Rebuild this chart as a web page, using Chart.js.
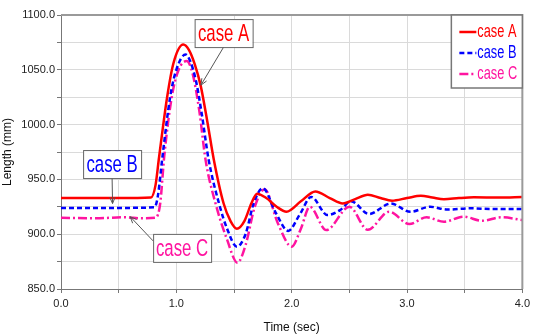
<!DOCTYPE html>
<html>
<head>
<meta charset="utf-8">
<script src="https://cdn.jsdelivr.net/npm/chart.js@4/dist/chart.umd.min.js"></script>
<style>
  html, body { margin: 0; padding: 0; background: #fff; }
  #wrap { width: 534px; height: 335px; }
</style>
</head>
<body>
<div id="wrap"><canvas id="chart"></canvas></div>
<script>
// values (time in sec, length in mm)
const timeA = [0, 0.5, 0.78, 0.82, 0.85, 0.92, 0.975, 1.06, 1.11, 1.16, 1.21, 1.27, 1.325, 1.41, 1.47, 1.525, 1.59, 1.65, 1.70, 1.78, 1.87, 1.955, 2.08, 2.205, 2.33, 2.443, 2.55, 2.66, 2.77, 2.87, 3.0, 3.12, 3.22, 3.32, 3.45, 3.58, 3.8, 4.0];
const lengthA = [933, 933, 933.5, 945, 970, 1025, 1056, 1073, 1068, 1055, 1036, 1002, 968, 928, 912, 905, 912, 928, 937, 933, 925, 920.5, 930, 939, 933, 928, 932, 936, 933, 930.6, 933, 935, 933.5, 932, 933, 933.6, 933.5, 934];

const timeB = [0, 0.5, 0.81, 0.84, 0.88, 0.946, 1.0, 1.08, 1.12, 1.17, 1.22, 1.28, 1.37, 1.44, 1.525, 1.6, 1.67, 1.75, 1.86, 1.97, 2.07, 2.17, 2.31, 2.42, 2.515, 2.67, 2.86, 3.03, 3.2, 3.35, 3.55, 3.75, 4.0];
const lengthB = [924, 924, 924.5, 935, 971, 1025, 1050, 1064, 1058, 1040, 1010, 968, 928, 905, 888.6, 900, 928, 942, 920, 903, 918, 934, 917.5, 922, 930, 918.4, 928, 920.5, 925, 922.5, 923.6, 923, 923];

const timeC = [0, 0.3, 0.55, 0.7, 0.82, 0.86, 0.895, 0.96, 1.02, 1.09, 1.14, 1.2, 1.253, 1.34, 1.44, 1.53, 1.6, 1.68, 1.765, 1.88, 2.0, 2.08, 2.157, 2.30, 2.50, 2.66, 2.845, 3.02, 3.17, 3.32, 3.49, 3.65, 3.82, 4.0];
const lengthC = [915, 914.5, 915.5, 914.5, 915, 928, 971, 1025, 1050, 1058, 1047, 1012, 968, 928, 895, 874, 890, 925, 941, 910, 888.6, 905, 925, 903.8, 925, 904, 920.5, 909.3, 915.4, 911.4, 916, 912.3, 915.4, 913];

const caseNames = ['case A', 'case B', 'case C'];
const caseColors = ['#ff0000', '#0000ff', '#ff14a0'];

// callout boxes: label centre and arrow tip, in data units
const callouts = [
  { text: 'case A', color: '#ff0000', at: [1.41, 1083.5], tip: [1.213, 1036], from: 'bottom' },
  { text: 'case B', color: '#0000ff', at: [0.443, 964], tip: [0.447, 928], from: 'bottom' },
  { text: 'case C', color: '#ff14a0', at: [1.05, 887.5], tip: [0.60, 916], from: 'left' },
];

const FONT = '"Liberation Sans", Arial, sans-serif';

function pts(xs, ys) {
  return xs.map((x, i) => ({ x, y: ys[i] }));
}

function arrow(ctx, x0, y0, x1, y1) {
  ctx.beginPath();
  ctx.moveTo(x0, y0);
  ctx.lineTo(x1, y1);
  ctx.stroke();
  const a = Math.atan2(y1 - y0, x1 - x0);
  ctx.beginPath();
  ctx.moveTo(x1 - 7 * Math.cos(a - 0.4), y1 - 7 * Math.sin(a - 0.4));
  ctx.lineTo(x1, y1);
  ctx.lineTo(x1 - 7 * Math.cos(a + 0.4), y1 - 7 * Math.sin(a + 0.4));
  ctx.stroke();
}

// narrow, tall text like the original plotting program
function squeezedText(ctx, text, x, y, size, color, align, sy) {
  ctx.save();
  ctx.translate(x, y);
  ctx.scale(0.8, sy);
  ctx.fillStyle = color;
  ctx.font = size + 'px ' + FONT;
  ctx.textAlign = align;
  ctx.textBaseline = 'middle';
  ctx.fillText(text, 0, 0);
  ctx.restore();
}

const decorations = {
  id: 'decorations',
  afterDatasetsDraw(chart) {
    const { ctx, chartArea: ca, scales } = chart;
    ctx.save();
    // frame on top and right
    ctx.strokeStyle = '#9a9a9a';
    ctx.lineWidth = 2;
    ctx.beginPath();
    ctx.moveTo(ca.left, ca.top);
    ctx.lineTo(ca.right, ca.top);
    ctx.lineTo(ca.right, ca.bottom);
    ctx.stroke();

    // callouts
    callouts.forEach(c => {
      const cx = scales.x.getPixelForValue(c.at[0]);
      const cy = scales.y.getPixelForValue(c.at[1]);
      const tx = scales.x.getPixelForValue(c.tip[0]);
      const ty = scales.y.getPixelForValue(c.tip[1]);
      const w = 58, h = 28;
      ctx.lineWidth = 1;
      ctx.strokeStyle = '#555';
      const sx = c.from === 'left' ? cx - w / 2 : cx;
      const sy = c.from === 'left' ? cy - 7 : cy + h / 2;
      arrow(ctx, sx, sy, tx, ty);
      ctx.fillStyle = '#fff';
      ctx.fillRect(cx - w / 2, cy - h / 2, w, h);
      ctx.strokeStyle = '#666';
      ctx.strokeRect(cx - w / 2 + 0.5, cy - h / 2 + 0.5, w, h);
      squeezedText(ctx, c.text, cx, cy + 1, 21, c.color, 'center', 1.15);
    });

    // legend box in the upper right corner
    const lw = 71, lh = 73;
    const lx = ca.right - lw, ly = ca.top;
    ctx.fillStyle = '#fff';
    ctx.fillRect(lx, ly, lw, lh);
    ctx.strokeStyle = '#777';
    ctx.lineWidth = 1.5;
    ctx.strokeRect(lx, ly, lw, lh);
    chart.data.datasets.forEach((ds, i) => {
      const y = ly + 17 + i * 21;
      ctx.strokeStyle = ds.borderColor;
      ctx.lineWidth = 2.5;
      ctx.setLineDash(ds.borderDash || []);
      ctx.beginPath();
      ctx.moveTo(lx + 8, y);
      ctx.lineTo(lx + 25, y);
      ctx.stroke();
      ctx.setLineDash([]);
      squeezedText(ctx, ds.label, lx + 26, y, 16, ds.borderColor, 'left', 1.15);
    });
    ctx.restore();
  }
};

const tickFont = { family: FONT, size: 11 };
const titleFont = { family: FONT, size: 12 };

new Chart(document.getElementById('chart'), {
  type: 'line',
  data: {
    datasets: [
      { label: caseNames[0], data: pts(timeA, lengthA), borderColor: caseColors[0], borderWidth: 2.5 },
      { label: caseNames[1], data: pts(timeB, lengthB), borderColor: caseColors[1], borderWidth: 2.5, borderDash: [5, 3] },
      { label: caseNames[2], data: pts(timeC, lengthC), borderColor: caseColors[2], borderWidth: 2.5, borderDash: [9, 3, 2, 3] },
    ],
  },
  options: {
    responsive: true,
    maintainAspectRatio: false,
    animation: false,
    elements: {
      point: { radius: 0 },
      line: { cubicInterpolationMode: 'monotone', fill: false },
    },
    layout: { padding: { top: 15, right: 8, left: 0, bottom: 0 } },
    plugins: { legend: { display: false }, tooltip: { enabled: false } },
    scales: {
      x: {
        type: 'linear',
        min: 0,
        max: 4,
        ticks: {
          stepSize: 0.5,
          autoSkip: false,
          maxRotation: 0,
          padding: 4,
          color: '#222',
          font: tickFont,
          callback: v => (Number.isInteger(v) ? v.toFixed(1) : ''),
        },
        grid: { color: '#dadada', tickLength: 4, tickColor: '#777' },
        border: { color: '#777', width: 1 },
        title: { display: true, text: 'Time (sec)', color: '#111', font: titleFont, padding: { top: 2, bottom: 0 } },
        afterFit: s => { s.height = 46; },
      },
      y: {
        min: 850,
        max: 1100,
        ticks: {
          stepSize: 25,
          padding: 2,
          color: '#222',
          font: tickFont,
          callback: v => (v % 50 === 0 ? v.toFixed(1) : ''),
        },
        grid: { color: '#dadada', tickLength: 4, tickColor: '#777' },
        border: { color: '#777', width: 1 },
        title: { display: true, text: 'Length (mm)', color: '#111', font: titleFont, padding: { top: 0, bottom: 0 } },
        afterFit: s => { s.width = 61; },
      },
    },
  },
  plugins: [decorations],
});
</script>
</body>
</html>
